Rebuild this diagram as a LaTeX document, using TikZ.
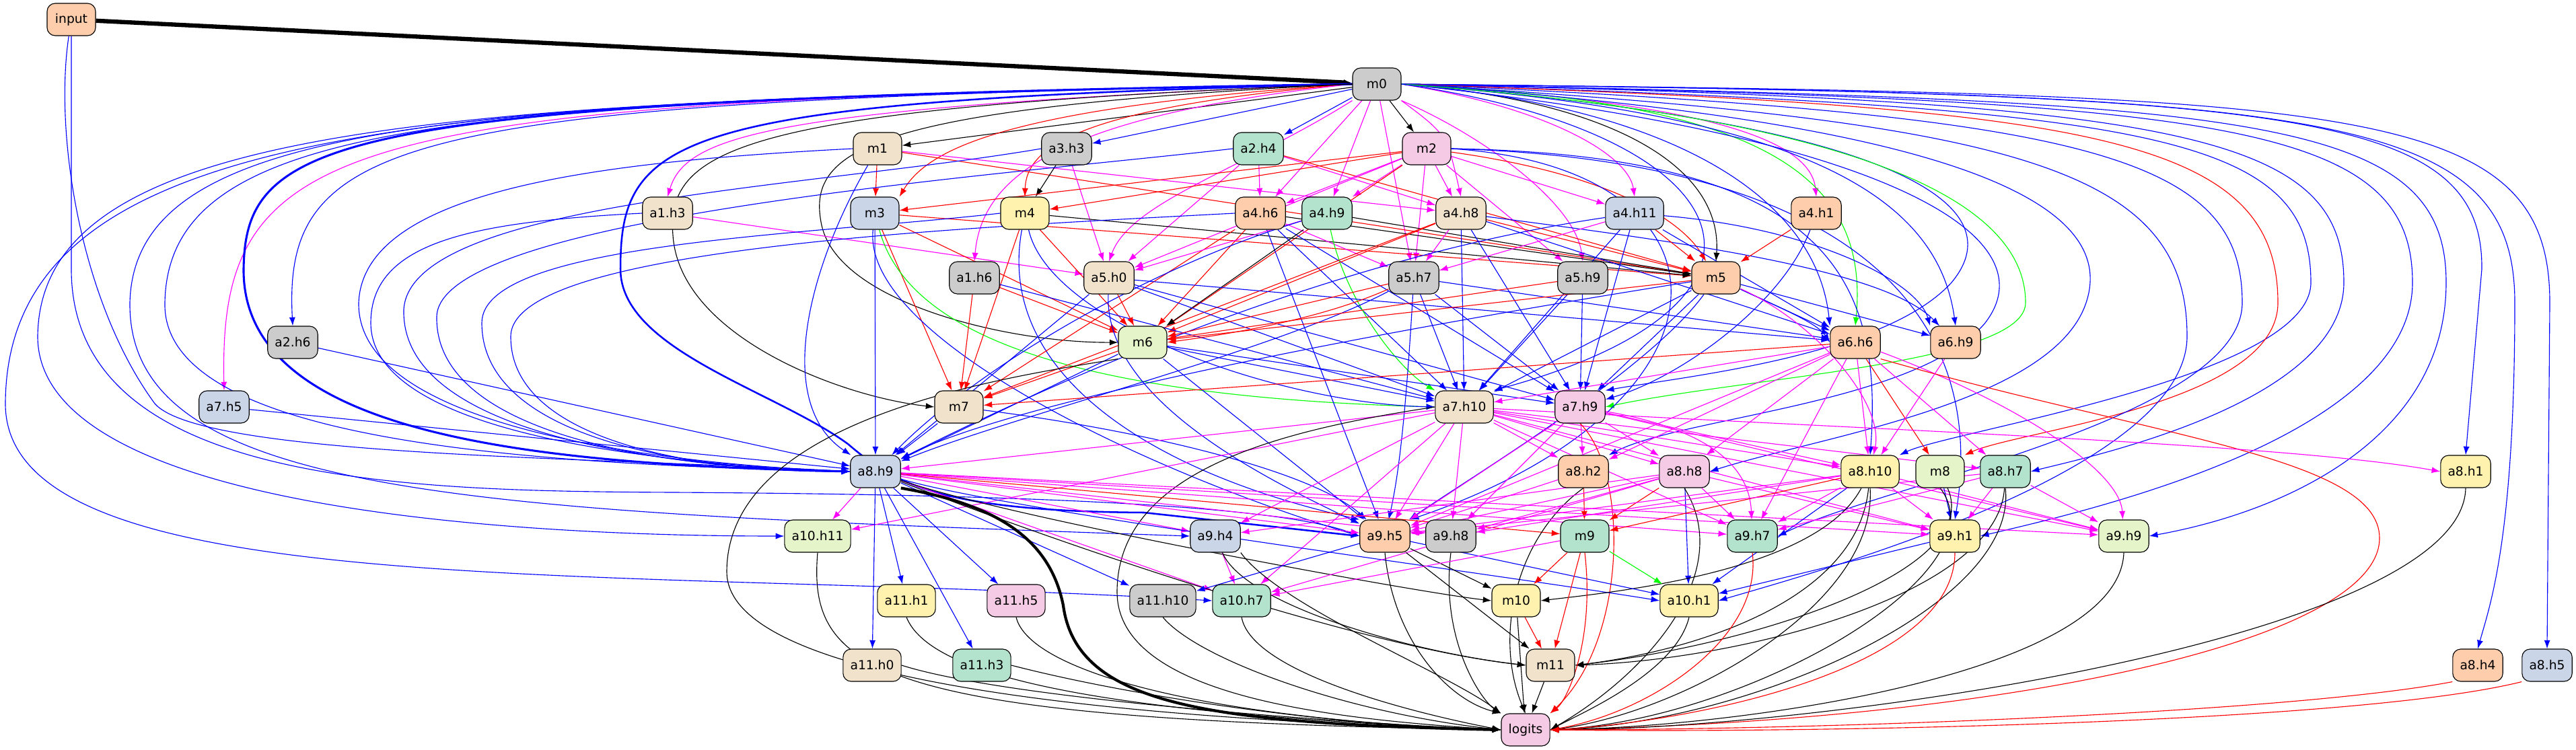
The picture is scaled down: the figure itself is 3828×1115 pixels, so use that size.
\documentclass[tikz,border=0pt]{standalone}
\usepackage{fontspec}
\setmainfont{DejaVu Sans}
\usetikzlibrary{arrows.meta,positioning,calc,backgrounds}

\definecolor{cgreen}{HTML}{B3E2CD}
\definecolor{corange}{HTML}{FDCDAC}
\definecolor{cblue}{HTML}{CBD5E8}
\definecolor{cpink}{HTML}{F4CAE4}
\definecolor{clime}{HTML}{E6F5C9}
\definecolor{cyellow}{HTML}{FFF2AE}
\definecolor{cbeige}{HTML}{F1E2CC}
\definecolor{cgrey}{HTML}{CCCCCC}
\definecolor{lblue}{HTML}{0000FF}
\definecolor{lpink}{HTML}{FF00FF}
\definecolor{lgreen}{HTML}{00FF00}
\definecolor{lred}{HTML}{FF0000}

\begin{document}
\begin{tikzpicture}[x=0.025cm,y=-0.025cm]
% all boxes and edges of the circuit
\tikzset{unit/.style={draw, line width=0.8pt, rounded corners=0.3cm, minimum width=1.8cm, minimum height=1.2cm, inner xsep=7.6pt, font=\fontsize{13.3}{16}\selectfont}}
\tikzset{link/.style={-{Latex[length=9pt,width=6.5pt]}, line width=0.8pt}}
\tikzset{bluelink/.style={link, lblue}, pinklink/.style={link, lpink}, greenlink/.style={link, lgreen}, redlink/.style={link, lred}, blacklink/.style={link, black}}
\useasboundingbox (0,0) rectangle (3828,1115);

% layer by layer
\node[unit, fill=corange] (input) at (106,29) {input};
\node[unit, fill=cgrey] (m0) at (2046,125) {m0};

\node[unit, fill=cbeige] (m1) at (1304,221) {m1};
\node[unit, fill=cgrey] (a3h3) at (1585,221) {a3.h3};
\node[unit, fill=cgreen] (a2h4) at (1870,221) {a2.h4};
\node[unit, fill=cpink] (m2) at (2120,221) {m2};

\node[unit, fill=cbeige] (a1h3) at (992,317) {a1.h3};
\node[unit, fill=cblue] (m3) at (1300,317) {m3};
\node[unit, fill=cyellow] (m4) at (1523,317) {m4};
\node[unit, fill=corange] (a4h6) at (1873,317) {a4.h6};
\node[unit, fill=cgreen] (a4h9) at (1972,317) {a4.h9};
\node[unit, fill=cbeige] (a4h8) at (2171,317) {a4.h8};
\node[unit, fill=cblue] (a4h11) at (2429,317) {a4.h11};
\node[unit, fill=corange] (a4h1) at (2699,317) {a4.h1};

\node[unit, fill=cgrey] (a1h6) at (1448,413) {a1.h6};
\node[unit, fill=cbeige] (a5h0) at (1648,413) {a5.h0};
\node[unit, fill=cgrey] (a5h7) at (2101,413) {a5.h7};
\node[unit, fill=cgrey] (a5h9) at (2352,413) {a5.h9};
\node[unit, fill=corange] (m5) at (2550,413) {m5};

\node[unit, fill=cgrey] (a2h6) at (435,509) {a2.h6};
\node[unit, fill=clime] (m6) at (1698,509) {m6};
\node[unit, fill=corange] (a6h6) at (2757,509) {a6.h6};
\node[unit, fill=corange] (a6h9) at (2906,509) {a6.h9};

\node[unit, fill=cblue] (a7h5) at (333,605) {a7.h5};
\node[unit, fill=cbeige] (m7) at (1425,605) {m7};
\node[unit, fill=cbeige] (a7h10) at (2176,605) {a7.h10};
\node[unit, fill=cpink] (a7h9) at (2348,605) {a7.h9};

\node[unit, fill=cblue] (a8h9) at (1301,701) {a8.h9};
\node[unit, fill=corange] (a8h2) at (2353,701) {a8.h2};
\node[unit, fill=cpink] (a8h8) at (2503,701) {a8.h8};
\node[unit, fill=cyellow] (a8h10) at (2779,701) {a8.h10};
\node[unit, fill=clime] (m8) at (2883,701) {m8};
\node[unit, fill=cgreen] (a8h7) at (2980,701) {a8.h7};
\node[unit, fill=cyellow] (a8h1) at (3664,701) {a8.h1};

\node[unit, fill=clime] (a10h11) at (1215,797) {a10.h11};
\node[unit, fill=cblue] (a9h4) at (1806,797) {a9.h4};
\node[unit, fill=corange] (a9h5) at (2058,797) {a9.h5};
\node[unit, fill=cgrey] (a9h8) at (2156,797) {a9.h8};
\node[unit, fill=cgreen] (m9) at (2355,797) {m9};
\node[unit, fill=cgreen] (a9h7) at (2604,797) {a9.h7};
\node[unit, fill=cyellow] (a9h1) at (2905,797) {a9.h1};
\node[unit, fill=clime] (a9h9) at (3156,797) {a9.h9};

\node[unit, fill=cyellow] (a11h1) at (1347,893) {a11.h1};
\node[unit, fill=cpink] (a11h5) at (1510,893) {a11.h5};
\node[unit, fill=cgrey] (a11h10) at (1728,893) {a11.h10};
\node[unit, fill=cgreen] (a10h7) at (1845,893) {a10.h7};
\node[unit, fill=cyellow] (m10) at (2253,893) {m10};
\node[unit, fill=cyellow] (a10h1) at (2510,893) {a10.h1};

\node[unit, fill=cbeige] (a11h0) at (1296,989) {a11.h0};
\node[unit, fill=cgreen] (a11h3) at (1459,989) {a11.h3};
\node[unit, fill=cbeige] (m11) at (2304,989) {m11};
\node[unit, fill=corange] (a8h4) at (3682,989) {a8.h4};
\node[unit, fill=cblue] (a8h5) at (3785,989) {a8.h5};

\node[unit, fill=cpink] (logits) at (2267,1085) {logits};

\begin{scope}[on background layer]
% from input and m0
\draw[blacklink, line width=4.5pt] (input) -- (m0);
\draw[bluelink] (input) .. controls (80,200) and (120,450) .. (230,600) .. controls (300,680) and (900,680) .. (a8h9.west);
\draw[bluelink] (input) -- (106,400) .. controls (106,720) and (600,730) .. (1000,732) .. controls (1500,735) and (1900,750) .. (a9h5.west);
\draw[blacklink] (m0) -- (m1);
\draw[bluelink] (m0) -- (a3h3);
\draw[bluelink] (m0) -- (a2h4);
\draw[blacklink] (m0) -- (m2);
\draw[pinklink] (m0.west) .. controls (1150,160) and (1020,200) .. (a1h3.north);
\draw[redlink] (m0.west) .. controls (1500,160) and (1380,220) .. (m3.north east);
\draw[redlink] (m0.west) .. controls (1600,160) and (1525,220) .. (m4.north);
\draw[pinklink] (m0.west) .. controls (1600,170) and (1460,250) .. (a1h6.north);
\draw[pinklink] (m0.south west) .. controls (1850,250) and (1680,300) .. (a5h0.north);
\draw[pinklink] (m0) -- (a4h6);
\draw[pinklink] (m0) -- (a4h9);
\draw[pinklink] (m0.south east) .. controls (2150,200) .. (a4h8.north);
\draw[pinklink] (m0) -- (a5h7);
\draw[pinklink] (m0.south east) .. controls (2200,200) and (2340,300) .. (a5h9.north);
\draw[pinklink] (m0.east) .. controls (2300,160) and (2420,230) .. (a4h11.north);
\draw[pinklink] (m0.east) .. controls (2500,150) and (2690,200) .. (a4h1.north);
\draw[blacklink] (m0.east) .. controls (2400,150) and (2560,250) .. (m5.north);
\draw[greenlink] (m0.east) .. controls (2600,150) and (2780,250) .. (a6h6.north);
\draw[bluelink] (m0.east) .. controls (2500,160) and (2700,300) .. (a6h6.north west);
\draw[bluelink] (m0.east) .. controls (2700,170) and (2880,300) .. (a6h9.north);
\draw[bluelink] (m0.west) .. controls (600,150) and (420,200) .. (a2h6.north);
\draw[pinklink] (m0.west) .. controls (500,150) and (325,200) .. (a7h5.north);
\draw[bluelink, line width=2.2pt] (m0.west) .. controls (500,150) and (365,200) .. (362,400) .. controls (360,650) and (800,690) .. (a8h9.west);
\draw[bluelink, line width=1.8pt] (m0.west) .. controls (1000,150) and (922,200) .. (922,400) .. controls (922,520) and (1150,580) .. (1260,660) .. controls (1330,720) and (1400,760) .. (1700,762) -- (a9h5.west);
\draw[bluelink] (m0.west) .. controls (700,150) and (10,160) .. (8,600) .. controls (8,900) and (900,840) .. (a10h7.west);
\draw[bluelink] (m0.west) .. controls (700,150) and (60,170) .. (56,500) .. controls (56,780) and (900,797) .. (a10h11.west);
\draw[bluelink] (m0.west) .. controls (700,150) and (200,170) .. (193,450) .. controls (190,740) and (700,760) .. (a9h4.west);
\draw[bluelink] (m0.west) .. controls (700,150) and (250,170) .. (245,450) .. controls (240,660) and (800,690) .. (a8h9.west);
\draw[blacklink] (m0.west) .. controls (1300,160) and (1200,220) .. (1220,330) .. controls (1240,450) and (1500,510) .. (m6.west);
\draw[blacklink] (m0.west) .. controls (1100,160) and (990,220) .. (1000,350) .. controls (1010,500) and (1250,590) .. (m7.west);
\draw[bluelink] (m0.east) .. controls (3500,140) and (3789,150) .. (3789,450) -- (a8h5.north);
\draw[bluelink] (m0.east) .. controls (3450,140) and (3737,160) .. (3737,450) .. controls (3737,800) and (3700,900) .. (a8h4.north);
\draw[bluelink] (m0.east) .. controls (3400,140) and (3690,160) .. (3688,400) -- (a8h1.north);
\draw[bluelink] (m0.east) .. controls (3350,150) and (3635,170) .. (3635,420) .. controls (3635,650) and (3400,760) .. (a9h9.east);
\draw[bluelink] (m0.east) .. controls (3300,150) and (3585,180) .. (3585,420) .. controls (3585,650) and (3100,760) .. (a9h1.east);
\draw[bluelink] (m0.east) .. controls (3250,150) and (3483,200) .. (3483,420) .. controls (3483,600) and (3100,680) .. (a8h7.east);
\draw[bluelink] (m0.east) .. controls (3200,160) and (3434,200) .. (3434,420) .. controls (3434,560) and (2900,640) .. (a8h10.north east);
\draw[redlink] (m0.east) .. controls (3100,160) and (3385,200) .. (3385,450) .. controls (3385,600) and (3000,640) .. (m8.north east);
\draw[bluelink] (m0.east) .. controls (3100,170) and (3332,230) .. (3332,450) .. controls (3332,620) and (2800,720) .. (a9h7.east);
\draw[bluelink] (m0.east) .. controls (3000,180) and (3250,250) .. (3250,500) .. controls (3250,700) and (2700,850) .. (a10h1.east);
\draw[bluelink] (m0.east) .. controls (2900,180) and (3150,300) .. (3100,450) .. controls (3050,600) and (2700,650) .. (a8h8.east);
\draw[bluelink] (m0.east) .. controls (2800,200) and (3050,350) .. (2950,480) .. controls (2850,600) and (2500,620) .. (a8h2.north east);
\draw[bluelink] (m0.east) .. controls (2800,180) and (3000,300) .. (2900,420) .. controls (2800,530) and (2500,560) .. (a7h9.north east);
\draw[greenlink] (m0.east) .. controls (2700,170) and (3010,280) .. (3010,450) .. controls (3010,540) and (2600,560) .. (a7h9.east);
\draw[bluelink] (m0.east) .. controls (2600,200) and (2700,450) .. (a7h10.north east);

% from the second row
\draw[redlink] (m1) -- (m3);
\draw[redlink] (m1) -- (m5);
\draw[pinklink] (m1) -- (a4h8);
\draw[bluelink] (m1.west) .. controls (900,240) and (540,280) .. (533,450) .. controls (530,640) and (1000,690) .. (a8h9.west);
\draw[bluelink] (m1) .. controls (1200,400) and (1150,600) .. (a8h9);
\draw[blacklink] (a3h3) -- (m4);
\draw[pinklink] (a3h3) -- (a5h0);
\draw[bluelink] (a3h3.west) .. controls (1200,280) and (610,300) .. (600,460) .. controls (595,650) and (1000,695) .. (a8h9.west);
\draw[pinklink] (a2h4) -- (a4h6);
\draw[pinklink] (a2h4) -- (a5h0);
\draw[pinklink] (a2h4) -- (a4h8);
\draw[redlink] (a2h4) -- (m5);
\draw[bluelink] (a2h4.west) .. controls (1500,260) and (655,320) .. (649,470) .. controls (645,650) and (1000,698) .. (a8h9.west);
\draw[redlink] (m2) -- (m3);
\draw[redlink] (m2) -- (m4);
\draw[pinklink] (m2) -- (a4h6);
\draw[pinklink] (m2) -- (a4h9);
\draw[pinklink] (m2) -- (a4h8);
\draw[pinklink] (m2) -- (a4h11);
\draw[pinklink] (m2) -- (a5h0);
\draw[pinklink] (m2) -- (a5h7);
\draw[pinklink] (m2) -- (a5h9);
\draw[redlink] (m2) .. controls (2400,260) and (2500,330) .. (m5);
\draw[redlink] (m2) -- (m6);
\draw[bluelink] (m2.east) .. controls (2700,230) and (2800,400) .. (a8h10.north);
\draw[bluelink] (m2.east) .. controls (2800,240) and (2950,500) .. (a9h1.north);
\draw[bluelink] (m2.east) .. controls (2600,250) and (2600,600) .. (a9h5.north east);

% from the third row
\draw[pinklink] (a1h3) -- (a5h0);
\draw[bluelink] (a1h3.west) .. controls (700,330) and (551,360) .. (551,480) .. controls (551,650) and (1000,690) .. (a8h9.west);
\draw[redlink] (m3) -- (m5);
\draw[redlink] (m3) -- (m6);
\draw[redlink] (m3) -- (m7);
\draw[bluelink] (m3) -- (a8h9);
\draw[greenlink] (m3) .. controls (1350,500) and (1600,590) .. (a7h10.west);
\draw[bluelink] (m3) .. controls (1280,500) and (1700,700) .. (a9h5.west);
\draw[blacklink] (m4) -- (m5);
\draw[redlink] (m4) -- (m6);
\draw[redlink] (m4) -- (m7);
\draw[bluelink] (m4.west) .. controls (1200,350) and (716,360) .. (716,480) .. controls (716,660) and (1050,700) .. (a8h9.west);
\draw[bluelink] (m4) .. controls (1560,480) and (1900,600) .. (a7h10.west);
\draw[bluelink] (m4) .. controls (1480,550) and (1700,700) .. (a9h5.north west);
\draw[blacklink] (a4h6) -- (m5);
\draw[redlink] (a4h6) -- (m6);
\draw[redlink] (a4h6) -- (m7);
\draw[pinklink] (a4h6) -- (a5h7);
\draw[bluelink] (a4h6.west) .. controls (1400,340) and (760,370) .. (759,500) .. controls (758,660) and (1050,702) .. (a8h9.west);
\draw[bluelink] (a4h6) -- (a7h10);
\draw[bluelink] (a4h6) -- (a7h9);
\draw[bluelink] (a4h6) -- (a9h5);
\draw[blacklink] (a4h9) -- (m5);
\draw[blacklink] (a4h9) -- (m6);
\draw[greenlink] (a4h9) .. controls (2000,450) and (2080,550) .. (a7h10.north west);
\draw[pinklink] (a4h9) -- (a5h0);
\draw[bluelink] (a4h9) .. controls (1700,400) and (1450,550) .. (a8h9);
\draw[pinklink] (a4h8) -- (a5h7);
\draw[redlink] (a4h8) -- (m5);
\draw[redlink] (a4h8) -- (m6);
\draw[bluelink] (a4h8) -- (a7h10);
\draw[bluelink] (a4h8) -- (a7h9);
\draw[bluelink] (a4h8) -- (a6h6);
\draw[bluelink] (a4h8) .. controls (2500,360) and (2800,400) .. (a6h9);
\draw[redlink] (a4h8) -- (m7);
\draw[redlink] (a4h11) -- (m5);
\draw[pinklink] (a4h11) -- (a5h7);
\draw[bluelink] (a4h11) -- (a6h6);
\draw[bluelink] (a4h11) .. controls (2700,340) and (2850,420) .. (a6h9.north west);
\draw[bluelink] (a4h11) -- (a7h10);
\draw[bluelink] (a4h11) -- (a7h9);
\draw[bluelink] (a4h11) .. controls (2000,380) and (1600,550) .. (a8h9);
\draw[redlink] (a4h1) -- (m5);
\draw[bluelink] (a4h1) .. controls (2650,450) and (2500,560) .. (a7h9);

% from the fourth row
\draw[redlink] (a1h6) -- (m6);
\draw[bluelink] (a1h6) -- (a7h10);
\draw[redlink] (a1h6) -- (m7);
\draw[redlink] (a5h0) -- (m6);
\draw[bluelink] (a5h0) -- (a6h6);
\draw[bluelink] (a5h0) -- (a7h10);
\draw[bluelink] (a5h0) -- (a7h9);
\draw[bluelink] (a5h0) -- (a8h9);
\draw[bluelink] (a5h0) .. controls (1640,600) and (1900,720) .. (a9h5);
\draw[redlink] (a5h7) -- (m6);
\draw[redlink] (a5h7) .. controls (1950,480) and (1800,500) .. (m6.east);
\draw[bluelink] (a5h7) -- (a6h6);
\draw[bluelink] (a5h7) -- (a7h10);
\draw[bluelink] (a5h7) -- (a7h9);
\draw[bluelink] (a5h7) .. controls (1900,520) and (1500,620) .. (a8h9);
\draw[bluelink] (a5h7) .. controls (2090,600) and (2080,700) .. (a9h5);
\draw[redlink] (a5h9) -- (m6);
\draw[bluelink] (a5h9) -- (a7h10);
\draw[bluelink] (a5h9) -- (a7h9);
\draw[bluelink] (m5) -- (a6h6);
\draw[bluelink] (m5) .. controls (2650,460) and (2700,480) .. (a6h6.west);
\draw[bluelink] (m5) -- (a6h9);
\draw[bluelink] (m5) -- (a7h10);
\draw[bluelink] (m5) -- (a7h9);
\draw[redlink] (m5) -- (m6);
\draw[pinklink] (m5) .. controls (2700,480) and (2800,600) .. (a8h10);
\draw[bluelink] (m5) .. controls (2000,500) and (1500,600) .. (a8h9);
\draw[bluelink] (m5) .. controls (2450,550) and (2200,700) .. (a9h5);

% from the fifth row
\draw[bluelink] (a2h6) -- (a8h9);
\draw[bluelink] (m6) -- (a7h10);
\draw[bluelink] (m6) -- (a7h9);
\draw[bluelink] (m6) -- (a8h9);
\draw[bluelink] (m6) -- (a9h5);
\draw[redlink] (m6) -- (m7);
\draw[blacklink] (m6.south west) .. controls (1500,560) and (1080,620) .. (1080,850) .. controls (1080,1020) and (1700,1070) .. (logits.west);
\draw[pinklink] (a6h6) -- (a8h2);
\draw[pinklink] (a6h6) -- (a8h8);
\draw[pinklink] (a6h6) -- (a8h10);
\draw[pinklink] (a6h6) -- (a8h7);
\draw[pinklink] (a6h6) -- (a9h7);
\draw[pinklink] (a6h6) .. controls (3000,600) and (3150,700) .. (a9h9);
\draw[redlink] (a6h6) -- (m7);
\draw[redlink] (a6h6) -- (m8);
\draw[pinklink] (a6h6) -- (a7h10);
\draw[pinklink] (a6h6) -- (a9h5);
\draw[redlink] (a6h6.south east) .. controls (3200,650) and (3536,680) .. (3536,800) .. controls (3536,950) and (3000,1070) .. (logits.east);
\draw[pinklink] (a6h9) -- (a8h10);

% from the sixth row
\draw[bluelink] (a7h5) -- (a8h9);
\draw[bluelink] (m7) -- (a8h9);
\draw[bluelink] (m7) .. controls (1700,640) and (1950,700) .. (a9h5);
\draw[pinklink] (a7h10) -- (a8h2);
\draw[pinklink] (a7h10) -- (a8h8);
\draw[pinklink] (a7h10) -- (a8h10);
\draw[pinklink] (a7h10) -- (a8h7);
\draw[pinklink] (a7h10) .. controls (2800,640) and (3400,660) .. (a8h1.west);
\draw[pinklink] (a7h10) -- (a9h5);
\draw[pinklink] (a7h10) -- (a9h8);
\draw[pinklink] (a7h10) -- (a9h7);
\draw[pinklink] (a7h10) -- (a9h1);
\draw[pinklink] (a7h10) -- (a9h9);
\draw[pinklink] (a7h10) -- (a10h11);
\draw[pinklink] (a7h10) -- (a9h4);
\draw[pinklink] (a7h10) -- (a8h9);
\draw[pinklink] (a7h10) -- (a10h7);
\draw[blacklink] (a7h10.west) .. controls (1900,640) and (1660,700) .. (1660,880) .. controls (1660,1040) and (2000,1070) .. (logits.west);
\draw[pinklink] (a7h9) -- (a8h2);
\draw[pinklink] (a7h9) -- (a8h8);
\draw[pinklink] (a7h9) -- (a8h10);
\draw[pinklink] (a7h9) -- (a9h5);
\draw[pinklink] (a7h9) -- (a9h8);
\draw[pinklink] (a7h9) .. controls (2550,640) and (2600,700) .. (a9h7);
\draw[pinklink] (a7h9) -- (a9h9);
\draw[redlink] (a7h9.south) .. controls (2420,700) and (2420,950) .. (logits.north east);

% from the seventh row
\draw[pinklink] (a8h9) -- (a10h11);
\draw[bluelink] (a8h9) -- (a11h1);
\draw[bluelink] (a8h9) -- (a11h0);
\draw[bluelink] (a8h9) -- (a11h3);
\draw[bluelink] (a8h9) -- (a11h5);
\draw[bluelink] (a8h9) -- (a11h10);
\draw[pinklink] (a8h9) -- (a10h7);
\draw[pinklink] (a8h9) -- (a9h4);
\draw[pinklink] (a8h9) -- (a9h5);
\draw[pinklink] (a8h9) -- (a9h8);
\draw[redlink] (a8h9) -- (m9);
\draw[pinklink] (a8h9) -- (a9h7);
\draw[pinklink] (a8h9) -- (a9h1);
\draw[pinklink] (a8h9) -- (a9h9);
\draw[bluelink] (a8h9) .. controls (1500,760) and (2200,850) .. (a10h1.west);
\draw[blacklink] (a8h9) .. controls (1500,770) and (2100,880) .. (m10.west);
\draw[blacklink] (a8h9) .. controls (1500,780) and (2000,960) .. (m11.west);
\draw[blacklink, line width=3pt] (a8h9.south east) .. controls (1480,750) and (1560,800) .. (1580,900) .. controls (1600,1050) and (1800,1075) .. (logits.west);
\draw[redlink] (a8h2) -- (m9);
\draw[pinklink] (a8h2) -- (a9h5);
\draw[blacklink] (a8h2.south) .. controls (2250,800) and (2220,950) .. (logits.north);
\draw[pinklink] (a8h8) -- (a9h5);
\draw[pinklink] (a8h8) -- (a9h8);
\draw[redlink] (a8h8) -- (m9);
\draw[pinklink] (a8h8) -- (a9h7);
\draw[pinklink] (a8h8) -- (a9h1);
\draw[bluelink] (a8h8) -- (a10h1);
\draw[pinklink] (a8h8) -- (a10h7);
\draw[pinklink] (a8h8) -- (a9h4);
\draw[blacklink] (a8h8.south) .. controls (2580,850) and (2450,1000) .. (logits.east);
\draw[redlink] (a8h10) -- (m9);
\draw[pinklink] (a8h10) -- (a9h5);
\draw[pinklink] (a8h10) -- (a9h8);
\draw[pinklink] (a8h10) -- (a9h7);
\draw[pinklink] (a8h10) -- (a9h1);
\draw[pinklink] (a8h10) -- (a9h9);
\draw[bluelink] (a8h10) -- (a10h1);
\draw[blacklink] (a8h10) .. controls (2700,850) and (2400,880) .. (m10.east);
\draw[blacklink] (a8h10) .. controls (2760,900) and (2500,970) .. (m11.east);
\draw[blacklink] (a8h10.south) .. controls (2790,900) and (2500,1060) .. (logits.east);
\draw[bluelink] (m8) -- (a9h1);
\draw[blacklink] (m8) .. controls (2950,850) and (2600,960) .. (m11.east);
\draw[blacklink] (m8.south) .. controls (2980,850) and (2600,1070) .. (logits.east);
\draw[pinklink] (a8h7) -- (a9h1);
\draw[pinklink] (a8h7) -- (a9h9);
\draw[pinklink] (a8h7) -- (a9h7);
\draw[pinklink] (a8h7) -- (a9h5);
\draw[blacklink] (a8h7) .. controls (2970,880) and (2600,980) .. (m11.east);
\draw[blacklink] (a8h7.south) .. controls (3000,900) and (2600,1075) .. (logits.east);
\draw[blacklink] (a8h1.south) .. controls (3660,950) and (2700,1085) .. (logits.east);

% from the eighth row
\draw[blacklink] (a10h11.south) .. controls (1200,1000) and (1300,1070) .. (logits.west);
\draw[pinklink] (a9h4) -- (a10h7);
\draw[blacklink] (a9h4) .. controls (1850,900) and (2100,970) .. (m11.west);
\draw[blacklink] (a9h4.south east) .. controls (1900,900) and (2150,1000) .. (logits.north west);
\draw[blacklink] (a9h5) -- (m10);
\draw[blacklink] (a9h5) -- (m11);
\draw[bluelink] (a9h5) -- (a10h1);
\draw[bluelink] (a9h5) -- (a11h10);
\draw[blacklink] (a9h5.south) .. controls (2070,950) and (2150,1040) .. (logits.north west);
\draw[blacklink] (a9h8.south) .. controls (2140,950) and (2200,1040) .. (logits.north west);
\draw[redlink] (m9) -- (m10);
\draw[redlink] (m9) -- (m11);
\draw[greenlink] (m9) -- (a10h1);
\draw[pinklink] (m9) -- (a10h7);
\draw[redlink] (m9.south) .. controls (2370,950) and (2330,1040) .. (logits.north east);
\draw[redlink] (a9h7.south) .. controls (2620,950) and (2450,1060) .. (logits.east);
\draw[bluelink] (a9h1) -- (a10h1);
\draw[redlink] (a9h1.south) .. controls (2905,1000) and (2500,1075) .. (logits.east);
\draw[blacklink] (a9h9.south) .. controls (3150,1000) and (2600,1080) .. (logits.east);

% last rows into logits
\draw[blacklink] (a11h1.south) .. controls (1380,1000) and (1600,1060) .. (logits.west);
\draw[blacklink] (a11h5.south) .. controls (1530,1000) and (1800,1070) .. (logits.west);
\draw[blacklink] (a11h10.south) .. controls (1780,980) and (2000,1060) .. (logits.west);
\draw[blacklink] (a10h7.south) .. controls (1860,1000) and (2100,1060) .. (logits.west);
\draw[blacklink] (a11h0.east) .. controls (1500,1040) and (2000,1075) .. (logits.west);
\draw[blacklink] (a11h3.east) .. controls (1700,1040) and (2000,1080) .. (logits.west);
\draw[redlink] (m10) -- (m11);
\draw[blacklink] (m10) -- (logits);
\draw[blacklink] (a10h1.south) .. controls (2490,1000) and (2350,1060) .. (logits.east);
\draw[blacklink] (m11) -- (logits);
\draw[redlink] (a8h4.south west) .. controls (3400,1060) and (2700,1085) .. (logits.east);
\draw[redlink] (a8h5.south west) .. controls (3500,1075) and (2700,1090) .. (logits.east);
\end{scope}
\end{tikzpicture}
\end{document}
